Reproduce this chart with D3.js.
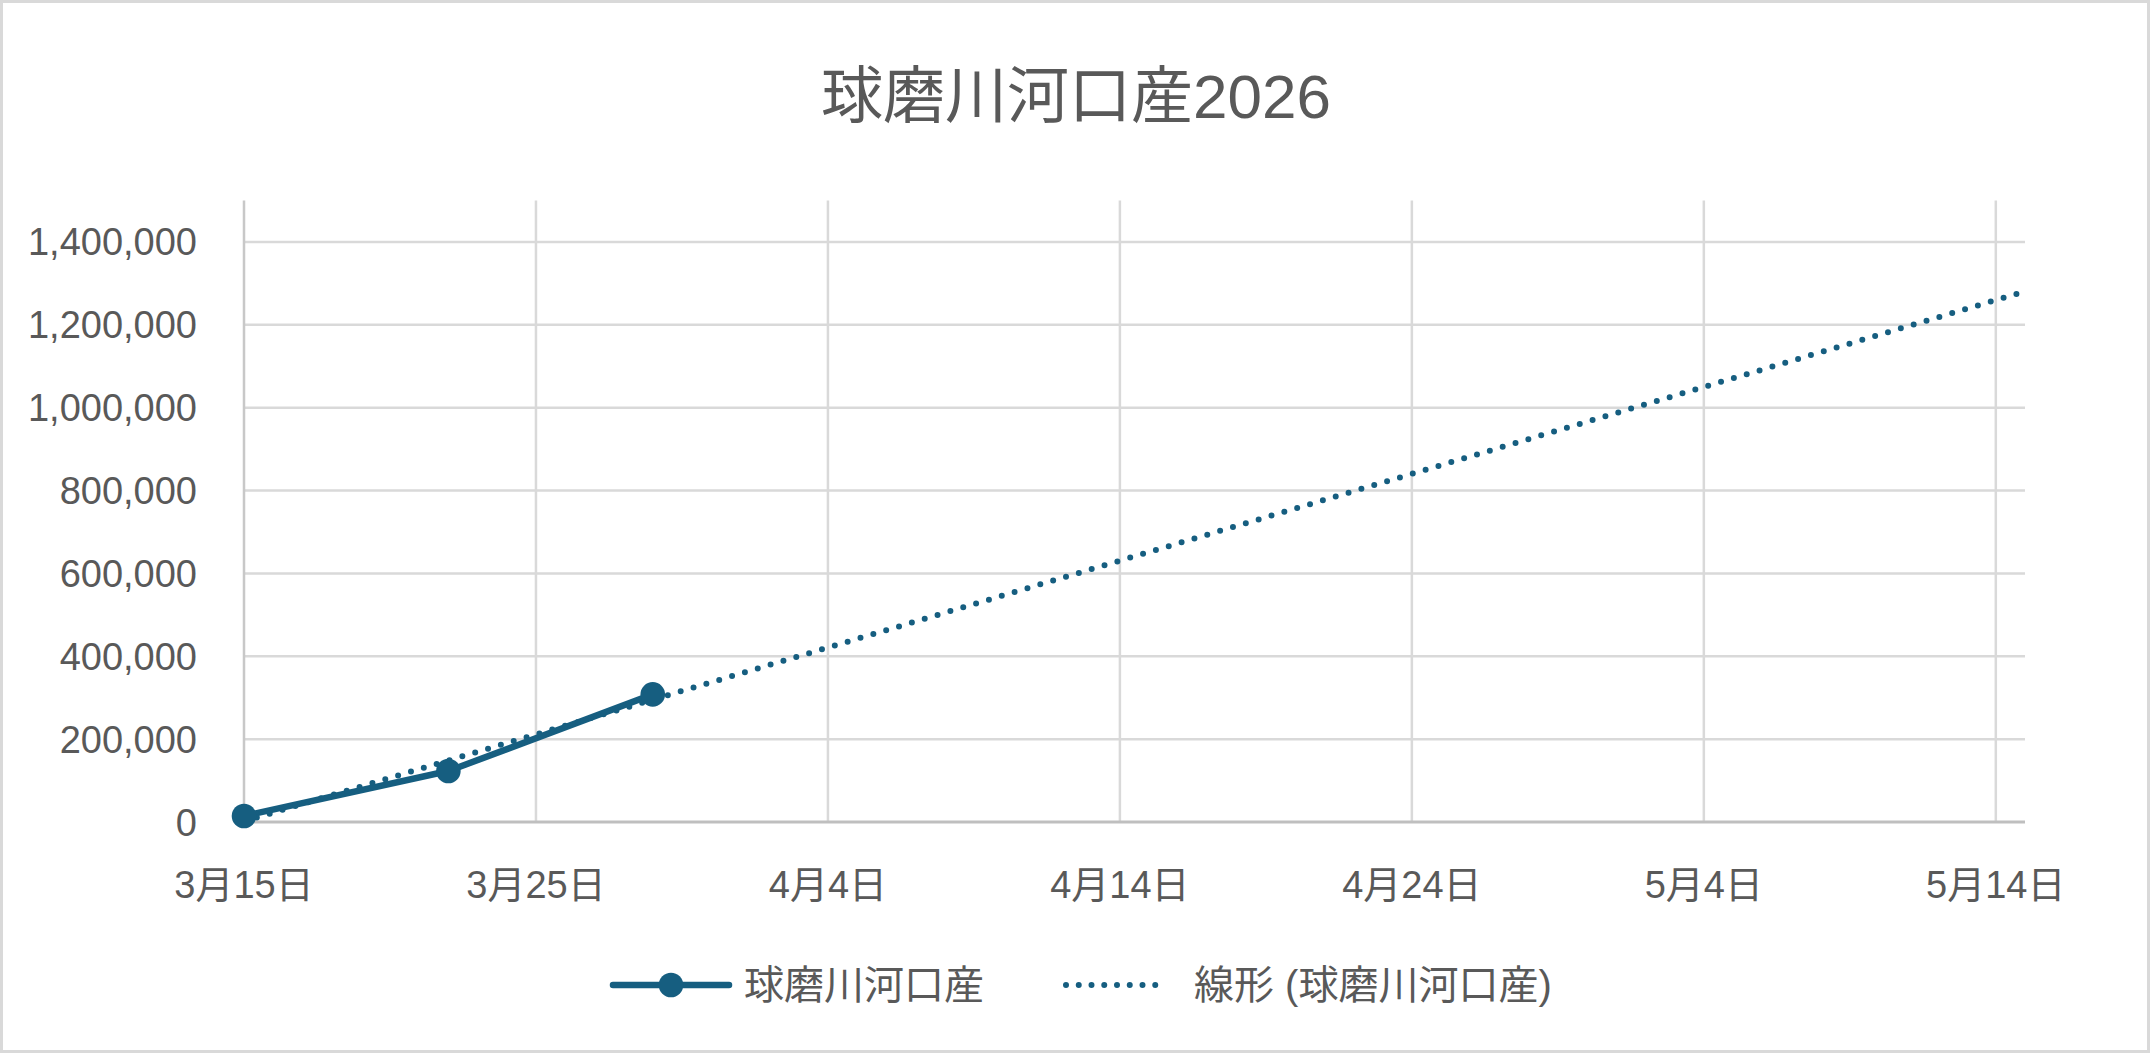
<!DOCTYPE html>
<html>
<head>
<meta charset="utf-8">
<script src="https://cdn.jsdelivr.net/npm/d3@7"></script>
<style>
  html, body { margin: 0; padding: 0; background: #fff; }
  svg { display: block; font-family: "Liberation Sans", "Noto Sans CJK JP", sans-serif; }
  .grid line { stroke: #d9d9d9; stroke-width: 2.5; }
  .lbl { fill: #595959; }
</style>
</head>
<body>
<svg id="chart" width="2150" height="1053"></svg>
<script>
// データ（球磨川河口産 2026）
const seriesName = "球磨川河口産";
const trendName = "線形 (球磨川河口産)";
const chartTitle = "球磨川河口産2026";
const dates = [new Date(Date.UTC(2026, 2, 15)), new Date(Date.UTC(2026, 2, 22)), new Date(Date.UTC(2026, 2, 29))];
const values = [14500, 123000, 308000];
const xTickDates = [
    [2, 15], [2, 25], [3, 4], [3, 14], [3, 24], [4, 4], [4, 14]
].map(([m, d]) => new Date(Date.UTC(2026, m, d)));
const yTicks = [0, 200000, 400000, 600000, 800000, 1000000, 1200000, 1400000];
const xDomain = [new Date(Date.UTC(2026, 2, 15)), new Date(Date.UTC(2026, 4, 15))];
const yDomain = [0, 1500000];

const COLOR = "#165e80";
const PLOT = { left: 244, right: 2025, top: 200.5, bottom: 822 };

const svg = d3.select("#chart");

// 外枠
svg.append("rect")
    .attr("x", 1.5).attr("y", 1.5)
    .attr("width", 2147).attr("height", 1050)
    .attr("fill", "#fff")
    .attr("stroke", "#d9d9d9")
    .attr("stroke-width", 3);

const x = d3.scaleUtc().domain(xDomain).range([PLOT.left, PLOT.right]);
const y = d3.scaleLinear().domain(yDomain).range([PLOT.bottom, PLOT.top]);

// タイトル
svg.append("text")
    .attr("class", "lbl")
    .attr("x", 1076).attr("y", 118)
    .attr("text-anchor", "middle")
    .style("font-size", "62px")
    .text(chartTitle);

// 横グリッド
svg.append("g")
    .attr("class", "grid")
    .selectAll("line")
    .data(yTicks.filter(v => v > 0))
    .join("line")
    .attr("x1", PLOT.left).attr("x2", PLOT.right)
    .attr("y1", d => y(d)).attr("y2", d => y(d));

// 縦グリッド
svg.append("g")
    .attr("class", "grid")
    .selectAll("line")
    .data(xTickDates)
    .join("line")
    .attr("x1", d => x(d)).attr("x2", d => x(d))
    .attr("y1", PLOT.top).attr("y2", PLOT.bottom)
    .style("stroke", (d, i) => i === 0 ? "#c8c8c8" : null);

// X軸
svg.append("line")
    .attr("x1", PLOT.left).attr("x2", PLOT.right)
    .attr("y1", y(0)).attr("y2", y(0))
    .attr("stroke", "#bfbfbf")
    .attr("stroke-width", 3);

// Y軸ラベル
svg.append("g")
    .selectAll("text")
    .data(yTicks)
    .join("text")
    .attr("class", "lbl")
    .attr("x", 197)
    .attr("y", d => y(d) + 13.5)
    .attr("text-anchor", "end")
    .style("font-size", "38px")
    .text(d3.format(","));

// X軸ラベル
svg.append("g")
    .selectAll("text")
    .data(xTickDates)
    .join("text")
    .attr("class", "lbl")
    .attr("x", d => x(d))
    .attr("y", 898)
    .attr("text-anchor", "middle")
    .style("font-size", "38px")
    .text(d => `${d.getUTCMonth() + 1}月${d.getUTCDate()}日`);

// 系列の線
const pts = dates.map((d, i) => ({ date: d, value: values[i] }));
const line = d3.line().x(d => x(d.date)).y(d => y(d.value));

svg.append("path")
    .datum(pts)
    .attr("d", line)
    .attr("fill", "none")
    .attr("stroke", COLOR)
    .attr("stroke-width", 6.5)
    .attr("stroke-linejoin", "round")
    .attr("stroke-linecap", "round");

// 線形近似（最小二乗）
const day = 864e5;
const xs = dates.map(d => (d - dates[0]) / day);
const mx = d3.mean(xs), my = d3.mean(values);
const slope = d3.sum(xs, (v, i) => (v - mx) * (values[i] - my)) / d3.sum(xs, v => (v - mx) ** 2);
const icpt = my - slope * mx;
const trendPts = [dates[0], xDomain[1]].map(d => ({
    date: d,
    value: icpt + slope * (d - dates[0]) / day
}));

svg.append("path")
    .datum(trendPts)
    .attr("d", line)
    .attr("fill", "none")
    .attr("stroke", COLOR)
    .attr("stroke-width", 6)
    .attr("stroke-linecap", "round")
    .attr("stroke-dasharray", "0 13.4");

// マーカー
svg.append("g")
    .selectAll("circle")
    .data(pts)
    .join("circle")
    .attr("cx", d => x(d.date))
    .attr("cy", d => y(d.value))
    .attr("r", 12.3)
    .attr("fill", COLOR);

// 凡例
const legend = svg.append("g").attr("transform", "translate(0, 985)");

legend.append("line")
    .attr("x1", 613).attr("x2", 729)
    .attr("stroke", COLOR)
    .attr("stroke-width", 6.5)
    .attr("stroke-linecap", "round");
legend.append("circle")
    .attr("cx", 671).attr("r", 12.3)
    .attr("fill", COLOR);
legend.append("text")
    .attr("class", "lbl")
    .attr("x", 744).attr("y", 14)
    .style("font-size", "40px")
    .text(seriesName);

legend.append("line")
    .attr("x1", 1066).attr("x2", 1168)
    .attr("stroke", COLOR)
    .attr("stroke-width", 6)
    .attr("stroke-linecap", "round")
    .attr("stroke-dasharray", "0 12.75");
legend.append("text")
    .attr("class", "lbl")
    .attr("x", 1194).attr("y", 14)
    .style("font-size", "40px")
    .text(trendName);
</script>
</body>
</html>
